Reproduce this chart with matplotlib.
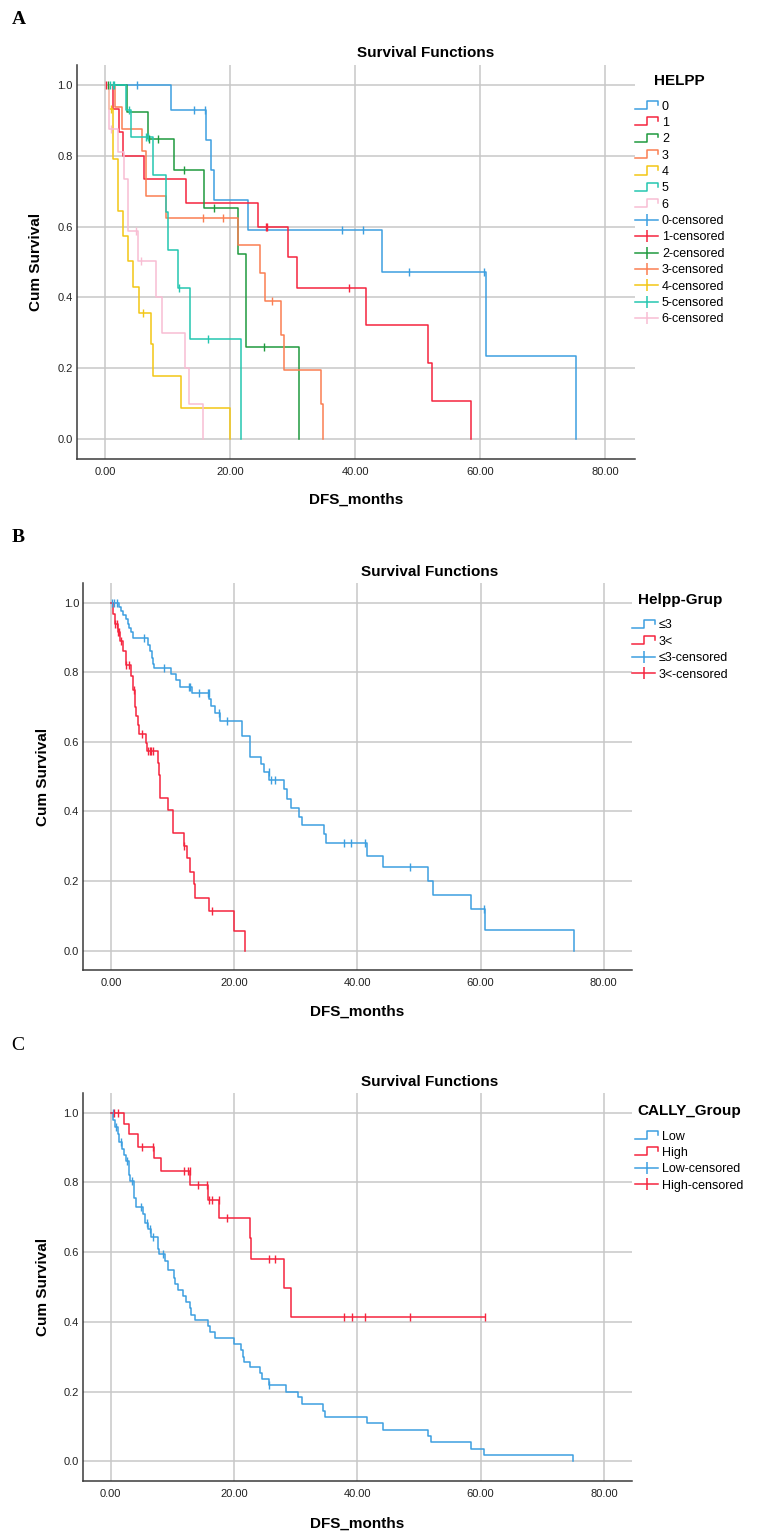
import matplotlib
matplotlib.use("Agg")
import matplotlib.pyplot as plt
from matplotlib.lines import Line2D
from matplotlib.legend_handler import HandlerBase
import numpy as np

plt.rcParams['font.family'] = ['Liberation Sans', 'DejaVu Sans']

# ---------------- DATA ----------------
# Panel A: HELPP groups 0..6  (event times, survival after event, censor times)
helpp_labels = ['0', '1', '2', '3', '4', '5', '6']
helpp_colors = ['#3d9fe0', '#f5253e', '#1f9a3e', '#fb7f52', '#f3c615', '#25c6b0', '#f8bdd3']

h0_t = [10.6, 16.2, 16.9, 17.5, 22.9, 44.3, 60.9, 75.3]
h0_s = [0.929, 0.845, 0.760, 0.675, 0.590, 0.473, 0.236, 0.0]
h0_c = [5.1, 14.3, 16.0, 37.9, 41.3, 48.7, 60.7]

h1_t = [1.2, 2.2, 2.9, 6.3, 12.9, 24.5, 29.3, 30.7, 41.7, 51.6, 52.3, 58.6]
h1_s = [0.933, 0.867, 0.800, 0.733, 0.667, 0.600, 0.514, 0.428, 0.321, 0.214, 0.107, 0.0]
h1_c = [0.2, 25.7, 25.9, 39.1]

h2_t = [3.5, 6.9, 11.1, 15.8, 21.2, 22.6, 31.0]
h2_s = [0.923, 0.846, 0.761, 0.653, 0.522, 0.261, 0.0]
h2_c = [0.5, 7.1, 8.5, 12.6, 17.5, 25.5]

h3_t = [1.6, 2.7, 5.9, 6.5, 9.7, 21.3, 24.8, 25.6, 28.1, 28.6, 34.6, 34.9]
h3_s = [0.9375, 0.875, 0.8125, 0.6875, 0.625, 0.547, 0.469, 0.391, 0.293, 0.195, 0.098, 0.0]
h3_c = [15.6, 18.8, 26.7]

h4_t = [0.6, 1.2, 1.3, 2.1, 2.9, 3.7, 4.4, 5.4, 7.4, 7.7, 12.1, 20.0]
h4_s = [0.933, 0.865, 0.790, 0.645, 0.573, 0.502, 0.430, 0.357, 0.268, 0.179, 0.089, 0.0]
h4_c = [1.0, 6.0]

h5_t = [3.4, 4.2, 7.6, 9.8, 10.1, 11.6, 13.6, 21.7]
h5_s = [0.929, 0.852, 0.746, 0.640, 0.533, 0.427, 0.284, 0.0]
h5_c = [0.8, 1.2, 1.5, 3.8, 6.5, 6.9, 11.9, 16.4]

h6_t = [0.7, 2.0, 3.1, 3.7, 5.3, 8.1, 9.1, 12.8, 13.5, 15.7]
h6_s = [0.875, 0.810, 0.733, 0.587, 0.504, 0.400, 0.300, 0.200, 0.100, 0.0]
h6_c = [1.0, 5.0, 5.8]

# Panel B: Helpp-Grup
grupB_labels = ['\u22643', '3<']
grupB_colors = ['#3d9fe0', '#f5253e']

bLo_t = [1.3, 1.6, 2.0, 2.4, 2.7, 3.0, 3.2, 3.6, 6.05, 6.3, 6.6, 6.8, 7.0, 9.8, 10.5, 11.2,
         13.1, 15.9, 16.3, 16.9, 17.7, 21.3, 22.6, 24.4, 24.8, 25.7, 28.1, 28.6, 29.3, 30.5,
         31.0, 34.5, 34.9, 41.6, 44.2, 51.5, 52.2, 58.4, 60.7, 75.1]
bLo_s = [0.988, 0.976, 0.964, 0.952, 0.940, 0.928, 0.916, 0.900, 0.880, 0.860, 0.840, 0.825,
         0.813, 0.795, 0.777, 0.759, 0.741, 0.722, 0.702, 0.682, 0.661, 0.617, 0.556, 0.535,
         0.512, 0.489, 0.464, 0.437, 0.411, 0.385, 0.360, 0.334, 0.308, 0.273, 0.240, 0.200,
         0.160, 0.119, 0.059, 0.0]
bLo_c = [0.2, 0.5, 0.9, 5.35, 8.6, 12.7, 12.8, 14.3, 15.7, 15.85, 17.6, 18.9, 25.6, 26.0,
         26.6, 37.8, 39.0, 41.3, 48.6, 60.6]

bHi_t = [0.4, 0.6, 1.1, 1.5, 2.0, 2.4, 3.2, 3.5, 3.9, 4.05, 4.3, 4.6, 5.6, 5.8, 7.7, 7.8,
         7.9, 8.0, 9.2, 10.0, 10.1, 11.8, 12.3, 12.9, 13.4, 13.6, 15.9, 20.0, 21.7]
bHi_s = [0.969, 0.938, 0.915, 0.890, 0.862, 0.821, 0.790, 0.749, 0.700, 0.674, 0.648, 0.623,
         0.598, 0.573, 0.540, 0.505, 0.471, 0.438, 0.404, 0.370, 0.337, 0.300, 0.265, 0.227,
         0.190, 0.152, 0.114, 0.057, 0.0]
bHi_c = [0.7, 0.9, 1.1, 1.3, 1.7, 2.5, 2.9, 3.7, 5.1, 6.0, 6.3, 6.5, 6.8, 11.9, 16.4]

# Panel C: CALLY_Group
grupC_labels = ['Low', 'High']
grupC_colors = ['#3d9fe0', '#f5253e']

cLo_t = [0.43, 0.7, 1.1, 1.35, 1.9, 2.2, 2.5, 2.9, 3.0, 3.2, 3.7, 3.8, 4.05, 5.3, 5.6, 6.1,
         6.5, 7.6, 7.8, 8.8, 9.35, 10.2, 10.4, 10.9, 11.8, 12.2, 12.8, 13.1, 13.7, 15.7, 16.1,
         16.9, 20.0, 21.1, 21.4, 21.7, 22.6, 24.2, 24.5, 25.6, 28.5, 30.4, 31.0, 34.4, 34.8,
         41.6, 44.2, 51.5, 52.0, 58.4, 60.6, 75.0]
cLo_s = [0.980, 0.960, 0.940, 0.917, 0.895, 0.880, 0.862, 0.840, 0.820, 0.803, 0.780, 0.755,
         0.730, 0.710, 0.685, 0.667, 0.644, 0.610, 0.594, 0.575, 0.550, 0.525, 0.508, 0.491,
         0.474, 0.457, 0.440, 0.420, 0.405, 0.388, 0.370, 0.353, 0.337, 0.320, 0.300, 0.286,
         0.270, 0.252, 0.235, 0.218, 0.200, 0.183, 0.164, 0.145, 0.128, 0.109, 0.091, 0.073,
         0.055, 0.036, 0.018, 0.0]
cLo_c = [0.3, 0.8, 1.6, 2.6, 3.5, 4.9, 5.9, 6.4, 6.8, 8.5, 25.6]

cHi_t = [2.2, 2.9, 4.5, 7.0, 8.1, 12.9, 15.8, 17.6, 22.6, 22.8, 28.1, 29.3]
cHi_s = [0.969, 0.938, 0.902, 0.869, 0.834, 0.793, 0.751, 0.697, 0.640, 0.579, 0.496, 0.414]
cHi_c = [0.5, 1.1, 5.1, 6.9, 11.9, 12.5, 12.8, 14.2, 15.6, 16.0, 16.4, 17.5, 18.8, 25.6,
         26.6, 37.8, 39.1, 41.2, 48.5, 60.7]

x_ticks = [0, 20, 40, 60, 80]
x_ticklabels = ['0.00', '20.00', '40.00', '60.00', '80.00']
y_ticks = [0.0, 0.2, 0.4, 0.6, 0.8, 1.0]
y_ticklabels = ['0.0', '0.2', '0.4', '0.6', '0.8', '1.0']

# ---------------- FIGURE ----------------
W, H = 757, 1536
fig = plt.figure(figsize=(W / 100, H / 100), dpi=100)


def add_ax(l, t, r, b):
    return fig.add_axes([l / W, 1 - b / H, (r - l) / W, (b - t) / H])


def fx(x):
    return x / W


def fy(y):
    return 1 - y / H


class StepHandler(HandlerBase):
    def create_artists(self, legend, orig_handle, xdescent, ydescent, width, height,
                       fontsize, trans):
        x0 = -xdescent
        x1 = x0 + width
        xm = x0 + 0.5 * width
        y0 = -ydescent + 0.05 * height
        y1 = -ydescent + 1.0 * height
        ln = Line2D([x0, xm, xm, x1, x1], [y0, y0, y1, y1, y1 - 0.45 * height],
                    color=orig_handle.get_color(), lw=orig_handle.get_linewidth())
        ln.set_transform(trans)
        return [ln]


def km(ax, t, s, c, color):
    t = np.asarray(t, float)
    s = np.asarray(s, float)
    c = np.asarray(c, float)
    xs = np.concatenate([[0.0], t])
    ys = np.concatenate([[1.0], s])
    if len(c) and c.max() > xs[-1]:
        xs = np.append(xs, c.max())
        ys = np.append(ys, ys[-1])
    ax.plot(xs, ys, drawstyle='steps-post', color=color, lw=1.1, zorder=3)
    idx = np.searchsorted(t, c, side='right')
    lev = np.concatenate([[1.0], s])[idx]
    ax.plot(c, lev, ls='none', marker='|', markersize=6, mew=1.0, color=color, zorder=4)


def style(ax, xlim):
    ax.set_xlim(*xlim)
    ax.set_ylim(-0.056, 1.056)
    ax.set_xticks(x_ticks)
    ax.set_xticklabels(x_ticklabels)
    ax.set_yticks(y_ticks)
    ax.set_yticklabels(y_ticklabels)
    ax.grid(True, color='#c8c8c8', lw=1.1)
    ax.set_axisbelow(True)
    for sp in ['top', 'right']:
        ax.spines[sp].set_visible(False)
    for sp in ['left', 'bottom']:
        ax.spines[sp].set_color('#3a3a3a')
        ax.spines[sp].set_linewidth(1.1)
    ax.tick_params(axis='both', length=0, labelsize=8, labelcolor='#222222')
    ax.tick_params(axis='x', pad=6)
    ax.tick_params(axis='y', pad=3)


def legend(ax, labels, colors, title, x, y):
    step_h = [Line2D([], [], color=c, lw=1.1) for c in colors]
    cens_h = [Line2D([], [], color=c, lw=1.1, marker='|', markersize=8, mew=1.1)
              for c in colors]
    hm = {h: StepHandler() for h in step_h}
    leg = ax.legend(step_h + cens_h, labels + [l + '-censored' for l in labels],
                    loc='upper left', bbox_to_anchor=(fx(x), fy(y)),
                    bbox_transform=fig.transFigure, frameon=False, borderpad=0,
                    borderaxespad=0, handlelength=1.85, handletextpad=0.3,
                    labelspacing=0.35, numpoints=1, fontsize=9, handler_map=hm,
                    title=title, title_fontproperties={'weight': 'bold', 'size': 11})
    leg._legend_box.sep = 9
    return leg


def texts(ax_cx, title_x, title_y, xlab_y, ylab_x, ylab_y):
    fig.text(fx(title_x), fy(title_y), 'Survival Functions', ha='center', va='center',
             fontsize=11, fontweight='bold')
    fig.text(fx(ax_cx), fy(xlab_y), 'DFS_months', ha='center', va='center',
             fontsize=11, fontweight='bold')
    fig.text(fx(ylab_x), fy(ylab_y), 'Cum Survival', ha='center', va='center',
             fontsize=11, fontweight='bold', rotation=90)


# Panel A
axA = add_ax(76.9, 65, 635, 459)
style(axA, (-4.5, 84.8))
for t, s, c, col in zip([h0_t, h1_t, h2_t, h3_t, h4_t, h5_t, h6_t],
                        [h0_s, h1_s, h2_s, h3_s, h4_s, h5_s, h6_s],
                        [h0_c, h1_c, h2_c, h3_c, h4_c, h5_c, h6_c], helpp_colors):
    km(axA, t, s, c, col)
legend(axA, helpp_labels, helpp_colors, 'HELPP', 635, 74)
texts(356, 426, 53, 500, 36, 262)

# Panel B
axB = add_ax(83.3, 583.3, 631.5, 970)
style(axB, (-4.5, 84.5))
km(axB, bLo_t, bLo_s, bLo_c, grupB_colors[0])
km(axB, bHi_t, bHi_s, bHi_c, grupB_colors[1])
legend(axB, grupB_labels, grupB_colors, 'Helpp-Grup', 632, 593)
texts(357, 430, 572, 1012, 43, 777)

# Panel C
axC = add_ax(83.0, 1093.2, 631.6, 1480.8)
style(axC, (-4.5, 84.5))
km(axC, cLo_t, cLo_s, cLo_c, grupC_colors[0])
km(axC, cHi_t, cHi_s, cHi_c, grupC_colors[1])
legend(axC, grupC_labels, grupC_colors, 'CALLY_Group', 635, 1104)
texts(357, 430, 1082, 1524, 43, 1287)

# Panel letters
fig.text(fx(19), fy(19), 'A', ha='center', va='center', fontsize=14, fontweight='bold',
         family='Liberation Serif')
fig.text(fx(18), fy(537), 'B', ha='center', va='center', fontsize=14, fontweight='bold',
         family='Liberation Serif')
fig.text(fx(18), fy(1045), 'C', ha='center', va='center', fontsize=14,
         family='Liberation Serif')

fig.savefig('out.png', dpi=100)
